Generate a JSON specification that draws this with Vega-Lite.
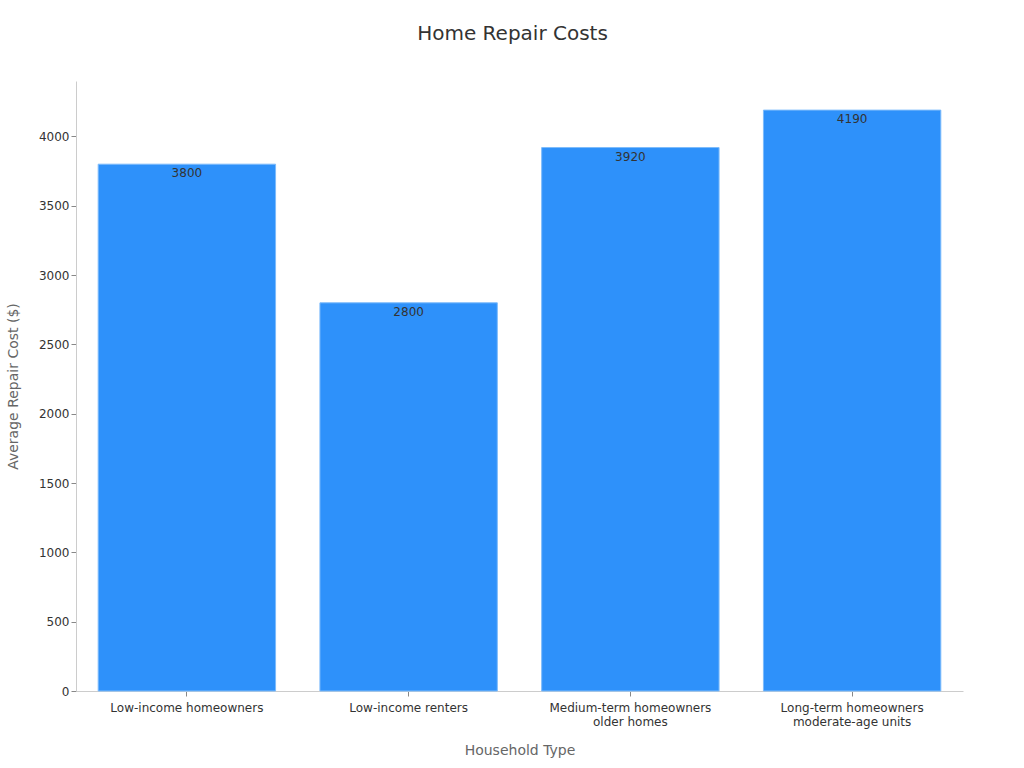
{
  "$schema": "https://vega.github.io/schema/vega-lite/v6.json",
  "description": "Home Repair Costs by household type",
  "width": 887,
  "height": 610,
  "padding": {"left": 76, "top": 81, "right": 61, "bottom": 77},
  "autosize": {"type": "none"},
  "background": "white",
  "title": {
    "text": "Home Repair Costs",
    "fontSize": 20,
    "fontWeight": "normal",
    "color": "#333333",
    "font": "DejaVu Sans",
    "anchor": "middle",
    "frame": "group",
    "dx": -7,
    "offset": 37
  },
  "data": {
    "values": [
      {"household": "Low-income homeowners", "cost": 3800},
      {"household": "Low-income renters", "cost": 2800},
      {"household": "Medium-term homeowners\nolder homes", "cost": 3920},
      {"household": "Long-term homeowners\nmoderate-age units", "cost": 4190}
    ]
  },
  "encoding": {
    "x": {
      "field": "household",
      "type": "nominal",
      "sort": null,
      "title": "Household Type",
      "scale": {"paddingInner": 0.2, "paddingOuter": 0.1},
      "axis": {
        "labelAngle": 0,
        "labelExpr": "split(datum.label, '\\n')",
        "labelFontSize": 12,
        "labelColor": "#333333",
        "labelPadding": 6,
        "tickColor": "#888888",
        "domainColor": "#cccccc",
        "titleFontSize": 14,
        "titleFontWeight": "normal",
        "titleColor": "#666666",
        "titlePadding": 16
      }
    },
    "y": {
      "field": "cost",
      "type": "quantitative",
      "title": "Average Repair Cost ($)",
      "scale": {"domain": [0, 4400], "nice": false},
      "axis": {
        "values": [0, 500, 1000, 1500, 2000, 2500, 3000, 3500, 4000],
        "format": "d",
        "grid": false,
        "labelFontSize": 12,
        "labelColor": "#333333",
        "tickColor": "#888888",
        "domainColor": "#cccccc",
        "titleFontSize": 14,
        "titleFontWeight": "normal",
        "titleColor": "#666666",
        "titlePadding": 18
      }
    }
  },
  "layer": [
    {
      "mark": {"type": "bar", "color": "#2E91FA", "stroke": "#7DBBFB", "strokeWidth": 1}
    },
    {
      "mark": {"type": "text", "baseline": "top", "dy": 4, "fontSize": 12, "color": "#333333", "font": "DejaVu Sans"},
      "encoding": {"text": {"field": "cost", "type": "quantitative"}}
    }
  ],
  "config": {
    "font": "DejaVu Sans",
    "view": {"stroke": null}
  }
}
